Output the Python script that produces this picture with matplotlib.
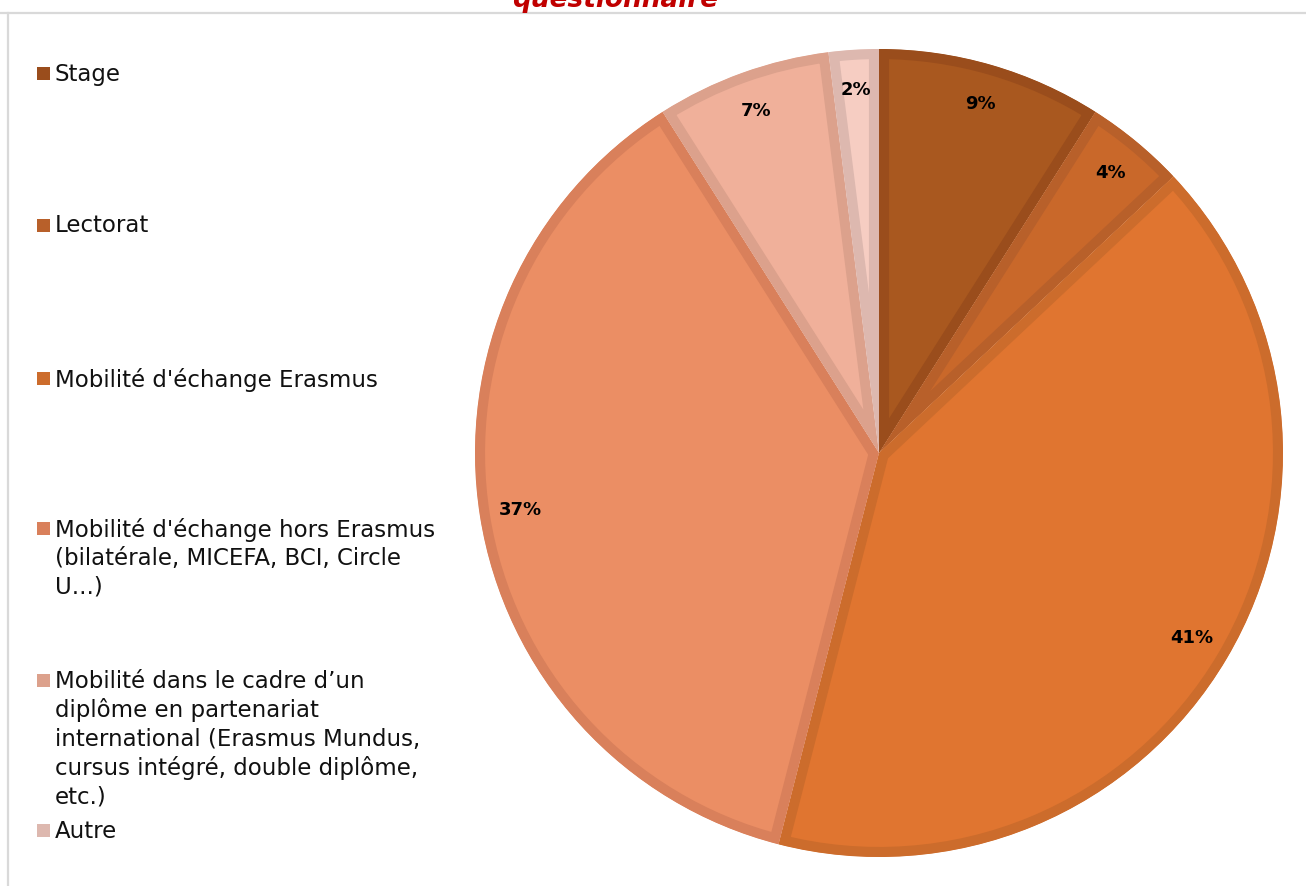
import matplotlib
matplotlib.use("Agg")
import matplotlib.pyplot as plt
from matplotlib.lines import Line2D
from matplotlib.patches import Rectangle

# ---- data ----
categories = [
    "Stage",
    "Lectorat",
    "Mobilité d'échange Erasmus",
    "Mobilité d'échange hors Erasmus\n(bilatérale, MICEFA, BCI, Circle\nU...)",
    "Mobilité dans le cadre d\u2019un\ndiplôme en partenariat\ninternational (Erasmus Mundus,\ncursus intégré, double diplôme,\netc.)",
    "Autre",
]
values = [9, 4, 41, 37, 7, 2]
title_text = "questionnaire"

# ---- style ----
fill_colors = ["#A9581F", "#C9682A", "#E07530", "#EB8E64", "#F0B09A", "#F6CDC2"]
edge_colors = ["#9A4D1C", "#B8602A", "#CC6C2C", "#D9805B", "#DCA18C", "#DDB8AF"]
legend_y_px = [73, 225, 378, 528, 680, 830]   # first-line centre of each legend entry

W, H = 1306, 886
fig = plt.figure(figsize=(W / 100, H / 100), dpi=100)
fig.patch.set_facecolor("white")

cx, cy, r = 879, 453, 404
ax = fig.add_axes([(cx - r) / W, (H - cy - r) / H, 2 * r / W, 2 * r / H])

wedges, texts, autotexts = ax.pie(
    values,
    colors=fill_colors,
    startangle=90,
    counterclock=False,
    autopct="%1.0f%%",
    pctdistance=0.9,
    radius=1,
    wedgeprops=dict(linewidth=14.5),
    textprops=dict(fontsize=13, fontweight="bold", color="black"),
)
for w, ec in zip(wedges, edge_colors):
    w.set_edgecolor(ec)
    w.set_joinstyle("miter")
    w.set_clip_on(True)
    w.set_clip_path(w)
ax.set_xlim(-1.0, 1.0)
ax.set_ylim(-1.0, 1.0)
ax.set_aspect("equal")
ax.axis("off")

# ---- frame lines ----
gray = "#D9D9D9"
fig.add_artist(Line2D([0, 1], [1 - 13 / H, 1 - 13 / H], transform=fig.transFigure, color=gray, lw=1.6))
fig.add_artist(Line2D([8 / W, 8 / W], [0, 1 - 13 / H], transform=fig.transFigure, color=gray, lw=1.6))

# ---- title (cut off at top, as in the reference) ----
fig.text(615 / W, 1 - 7 / H, title_text, color="#C00000", fontsize=19,
         fontweight="bold", fontstyle="italic", ha="center", va="baseline")

# ---- legend ----
sq = 13
fs = 16.5
for lab, col, ypx in zip(categories, edge_colors, legend_y_px):
    fig.add_artist(Rectangle((37 / W, 1 - (ypx + sq / 2) / H), sq / W, sq / H,
                             transform=fig.transFigure, facecolor=col, edgecolor="none"))
    fig.text(55 / W, 1 - (ypx - 10.5) / H, lab, fontsize=fs, color="#111111",
             ha="left", va="top", linespacing=1.3)

fig.savefig("out.png", dpi=100)
